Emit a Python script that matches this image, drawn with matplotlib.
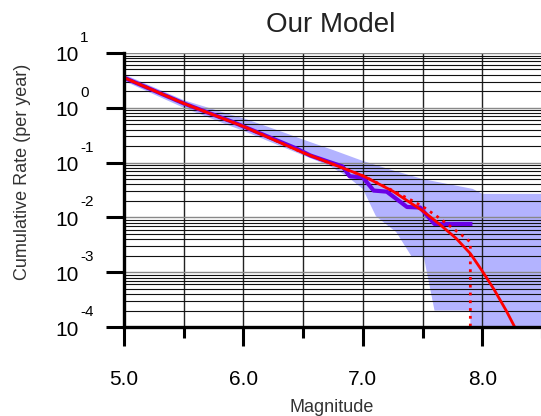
import numpy as np
import matplotlib
matplotlib.use('Agg')
import matplotlib.pyplot as plt
import matplotlib.transforms as mtransforms

plt.rcParams['font.family'] = ['Liberation Sans', 'DejaVu Sans']

# model curve (log10 of cumulative rate)
model_m = [5.0, 5.5, 6.0, 6.5, 7.0, 7.25, 7.5, 7.64, 7.78, 7.9, 8.0, 8.1, 8.2, 8.3]
model_log = [0.55, 0.08, -0.34, -0.82, -1.24, -1.52, -1.88, -2.12, -2.38, -2.66, -2.98, -3.32, -3.70, -4.12]

# truncated model (dotted)
trunc_m = [5.0, 5.5, 6.0, 6.5, 7.0, 7.25, 7.4, 7.5, 7.62, 7.76, 7.85, 7.9, 7.9]
trunc_log = [0.55, 0.08, -0.34, -0.82, -1.24, -1.51, -1.68, -1.80, -1.98, -2.21, -2.36, -2.45, -5.0]

# observed catalogue
obs_m = [5.0, 5.5, 5.9, 6.0, 6.44, 6.56, 6.72, 6.83, 6.89, 7.0, 7.09, 7.2, 7.37, 7.48, 7.6, 7.9]
obs_log = [0.55, 0.08, -0.25, -0.34, -0.74, -0.87, -0.99, -1.07, -1.25, -1.27, -1.51, -1.53, -1.81, -1.82, -2.12, -2.12]

# confidence band
upper_m = [5.0, 5.5, 5.9, 6.0, 6.3, 6.5, 6.75, 7.0, 7.25, 7.5, 7.92, 8.0, 8.6]
upper_log = [0.61, 0.14, -0.13, -0.19, -0.42, -0.58, -0.77, -0.97, -1.14, -1.30, -1.48, -1.57, -1.57]
lower_m = [5.0, 5.5, 5.9, 6.0, 6.3, 6.72, 6.86, 7.0, 7.11, 7.28, 7.41, 7.51, 7.60, 7.90, 7.90, 8.6]
lower_log = [0.49, 0.0, -0.34, -0.42, -0.69, -1.06, -1.24, -1.48, -1.98, -2.27, -2.72, -2.72, -3.70, -3.70, -5.0, -5.0]

decades = [-4, -3, -2, -1, 0, 1]
xmajor = [5.0, 6.0, 7.0, 8.0]
xminor = [5.5, 6.5, 7.5, 8.5]

fig = plt.figure(figsize=(5.41, 4.16), dpi=100)
ax = fig.add_axes([124/541, 1-327/416, 418/541, 274/416])

band_x = upper_m + lower_m[::-1]
band_y = [10**v for v in upper_log + lower_log[::-1]]
ax.fill(band_x, band_y, color='#b3b3ff', lw=0, zorder=1)

ax.plot(obs_m, [10**v for v in obs_log], color='#6a00e6', lw=3.0, zorder=3)
ax.plot(trunc_m, [10**v for v in trunc_log], color='red', lw=2.0, ls=(0, (1, 1.8)), zorder=3.5)
ax.plot(model_m, [10**v for v in model_log], color='red', lw=2.0, zorder=4)

ax.set_yscale('log')
ax.set_ylim(1e-4, 1e1)
ax.set_xlim(5.0, 8.5)

ax.set_xticks(xmajor)
ax.set_xticklabels(['%.1f' % v for v in xmajor])
ax.set_xticks(xminor, minor=True)
ax.set_yticks([10.0**k for k in decades])
ax.set_yticklabels([])
ax.tick_params(axis='x', which='major', length=14, width=2.2, labelsize=15, pad=17)
ax.tick_params(axis='x', which='minor', length=8, width=2.2)
ax.tick_params(axis='y', which='major', length=13, width=2.2)
ax.tick_params(axis='y', which='minor', length=0)

ax.set_axisbelow(False)
ax.grid(True, axis='x', which='both', color='#222222', lw=1.0)
ax.grid(True, axis='y', which='minor', color='#111111', lw=0.8)
ax.grid(True, axis='y', which='major', color='#888888', lw=1.0)

for s in ['top', 'right']:
    ax.spines[s].set_visible(False)
for s in ['left', 'bottom']:
    ax.spines[s].set_linewidth(2.4)
    ax.spines[s].set_zorder(5)

# y labels as 10 with raised exponent
trans = mtransforms.blended_transform_factory(ax.transAxes, ax.transData)
for k in decades:
    t1 = mtransforms.offset_copy(trans, fig=fig, x=-45, y=-3, units='dots')
    ax.text(0, 10.0**k, '10', transform=t1, ha='right', va='center', fontsize=15, clip_on=False)
    t2 = mtransforms.offset_copy(trans, fig=fig, x=-44, y=15, units='dots')
    ax.text(0, 10.0**k, '%d' % k, transform=t2, ha='left', va='center', fontsize=11, clip_on=False)

fig.text(331/541, 1-25/416, 'Our Model', ha='center', va='center', fontsize=20, color='#222222')
fig.text(23/541, 1-172/416, 'Cumulative Rate (per year)', rotation=90, ha='center', va='center', fontsize=13, color='#333333')
fig.text(332/541, 1-407/416, 'Magnitude', ha='center', va='center', fontsize=13, color='#333333')

fig.savefig('out.png', dpi=100)
